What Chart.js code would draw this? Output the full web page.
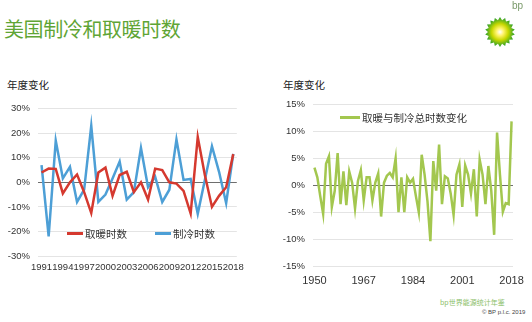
<!DOCTYPE html>
<html>
<head>
<meta charset="utf-8">
<script src="https://cdn.jsdelivr.net/npm/chart.js@4"></script>
<style>
  body { margin: 0; background: #fff; width: 532px; height: 322px; overflow: hidden; position: relative;
         font-family: "Noto Sans CJK SC", "Liberation Sans", sans-serif; }
  .abs { position: absolute; white-space: nowrap; }
  #title { left: 4px; top: 14px; font-size: 20px; color: #5fa535; letter-spacing: -0.4px; }
  .ylab { font-size: 10.5px; color: #222; top: 77px; }
  .leg { font-size: 10.5px; color: #333; display: flex; align-items: center; }
  .leg span.sw { display: inline-block; width: 16px; height: 2.5px; margin-right: 2px; }
</style>
</head>
<body>
<div id="title" class="abs">美国制冷和取暖时数</div>
<canvas id="logo" class="abs" width="44" height="44" style="left:478px;top:10px"></canvas>
<div class="abs" style="left:512px;top:0px;font-size:10px;color:#7a9a6a;font-family:'Liberation Sans'">bp</div>

<div class="abs ylab" style="left:7px">年度变化</div>
<div class="abs ylab" style="left:283px">年度变化</div>

<div class="abs" style="left:0;top:95px;width:250px;height:181px"><canvas id="leftChart"></canvas></div>
<div class="abs" style="left:270px;top:91px;width:262px;height:204px"><canvas id="rightChart"></canvas></div>

<div id="legLeft" class="abs leg" style="left:67px;top:226px"></div>
<div id="legRight" class="abs leg" style="left:340px;top:110px"></div>

<div class="abs" style="left:440px;top:297px;font-size:7px;color:#8cc06a">bp世界能源统计年鉴</div>
<div class="abs" style="left:482px;top:309px;font-size:6px;color:#444;font-family:'Liberation Sans'">© BP p.l.c. 2019</div>

<script>
// Left chart: heating / cooling degree hours, annual change (%)
const leftYears = ['1991','1992','1993','1994','1995','1996','1997','1998','1999','2000',
  '2001','2002','2003','2004','2005','2006','2007','2008','2009','2010',
  '2011','2012','2013','2014','2015','2016','2017','2018'];
const heating = [4, 5.6, 5.5, -4.5, 0, 3.2, -4, -12.5, 4, 6, -5.5, 3, 4.3, -4,
  0, -7, 5.6, 5, 0, -0.5, -3.5, -12.7, 18.5, 3, -10, -5.5, -2, 11.5];
const cooling = [7, -22, 17, 1.6, 6.3, -8, -3, 23, -8, -5, 1.6, 8.5, -7, -4,
  14, -2, 2.3, -8, -3, 17.5, 1, 1.4, -12.8, 1, 14.7, 4.3, -8.5, 11.6];

// Right chart: total heating + cooling change
const rightYears = ['1950','1951','1952','1953','1954','1955','1956','1957','1958','1959',
  '1960','1961','1962','1963','1964','1965','1966','1967','1968','1969',
  '1970','1971','1972','1973','1974','1975','1976','1977','1978','1979',
  '1980','1981','1982','1983','1984','1985','1986','1987','1988','1989',
  '1990','1991','1992','1993','1994','1995','1996','1997','1998','1999',
  '2000','2001','2002','2003','2004','2005','2006','2007','2008','2009',
  '2010','2011','2012','2013','2014','2015','2016','2017','2018'];
const totalChange = [3.3, 1.5, -2, -5.3, 4, 5.4, -4, -1, 6, -3.5,
  2.6, -3.7, 2.6, 0.5, -4.3, 0.8, 2.8, -2.8, 1.5, 1.5,
  -2.8, 0.5, 2.2, -5.8, 0.5, 1.8, 2.3, 1.5, 5, -5,
  1.5, -5, 1.5, 0.5, 1.2, -2, -5, 5.7, 2, -3,
  -10.4, 4.5, -1, 7.6, -3.5, 1.7, 1.3, -1.5, -5.5, 2,
  3.9, -4, 3.7, 2, -1.5, 3, -5.8, 4.8, 2, -3.5,
  3.6, -1, -9.2, 9.8, 2, -4.9, -3.3, -3.5, 11.9];

const leftTicks = [-30, -20, -10, 0, 10, 20, 30];
const rightTicks = [-15, -10, -5, 0, 5, 10, 15];

const RED = '#d5392f';
const BLUE = '#4d9fd6';
const GREEN = '#a3c74f';

const tickFont = { family: 'Liberation Sans', size: 9.5 };

function gridColor(ctx) {
  return ctx.tick && ctx.tick.value === 0 ? '#6e6e6e' : '#e4e4e4';
}

function yAxis(ticks, width) {
  return {
    min: ticks[0], max: ticks[ticks.length - 1],
    afterBuildTicks: s => { s.ticks = ticks.map(v => ({ value: v })); },
    afterFit: s => { s.width = width; },
    border: { display: false },
    grid: { color: gridColor, lineWidth: 1, drawTicks: false },
    ticks: { color: '#333', font: tickFont, padding: 8, callback: v => v + '%' }
  };
}

function xAxis(every, fontSize, pad, height) {
  return {
    offset: true,
    afterFit: s => { s.height = height; },
    border: { display: false },
    grid: { display: false, drawTicks: false },
    ticks: {
      autoSkip: false, maxRotation: 0, color: '#333', padding: pad,
      font: { family: 'Liberation Sans', size: fontSize },
      callback: function(v, i) { return i % every === 0 ? this.getLabelForValue(v) : ''; }
    }
  };
}

const lineOpts = { pointRadius: 0, borderWidth: 2.5, tension: 0, fill: false };

new Chart(document.getElementById('leftChart'), {
  type: 'line',
  data: {
    labels: leftYears,
    datasets: [
      { label: '取暖时数', data: heating, borderColor: RED, ...lineOpts },
      { label: '制冷时数', data: cooling, borderColor: BLUE, ...lineOpts }
    ]
  },
  options: {
    responsive: true, maintainAspectRatio: false, animation: false,
    layout: { padding: { top: 4, right: 10, left: 0, bottom: 0 } },
    plugins: { legend: { display: false }, tooltip: { enabled: false } },
    scales: { x: xAxis(3, 9.5, 6, 20), y: yAxis(leftTicks, 38) }
  }
});

new Chart(document.getElementById('rightChart'), {
  type: 'line',
  data: {
    labels: rightYears,
    datasets: [
      { label: '取暖与制冷总时数变化', data: totalChange, borderColor: GREEN, ...lineOpts }
    ]
  },
  options: {
    responsive: true, maintainAspectRatio: false, animation: false,
    layout: { padding: { top: 0, right: 19, left: 0, bottom: 0 } },
    plugins: { legend: { display: false }, tooltip: { enabled: false } },
    scales: { x: xAxis(17, 11, 8, 29), y: yAxis(rightTicks, 43) }
  }
});

// HTML legends built from the series labels
function buildLegend(id, items, gap) {
  const el = document.getElementById(id);
  items.forEach((it, i) => {
    const d = document.createElement('div');
    d.style.display = 'flex';
    d.style.alignItems = 'center';
    if (i > 0) d.style.marginLeft = gap + 'px';
    d.innerHTML = `<span class="sw" style="background:${it.color}"></span>${it.label}`;
    el.appendChild(d);
  });
}
buildLegend('legLeft', [{ label: '取暖时数', color: RED }, { label: '制冷时数', color: BLUE }], 28);
buildLegend('legRight', [{ label: '取暖与制冷总时数变化', color: GREEN }], 0);
document.querySelector('#legRight .sw').style.width = '20px';

// bp helios logo
(function drawLogo() {
  const c = document.getElementById('logo').getContext('2d');
  const cx = 22, cy = 22, n = 18;
  const g = c.createRadialGradient(cx, cy, 0, cx, cy, 15);
  g.addColorStop(0, '#ffffff');
  g.addColorStop(0.25, '#fff36a');
  g.addColorStop(0.55, '#c8d800');
  g.addColorStop(1, '#1e9a2e');
  c.beginPath();
  for (let i = 0; i < n * 2; i++) {
    const r = i % 2 === 0 ? 15 : 12;
    const a = Math.PI * i / n - Math.PI / 2;
    c.lineTo(cx + r * Math.cos(a), cy + r * Math.sin(a));
  }
  c.closePath();
  c.fillStyle = g;
  c.fill();
})();
</script>
</body>
</html>
